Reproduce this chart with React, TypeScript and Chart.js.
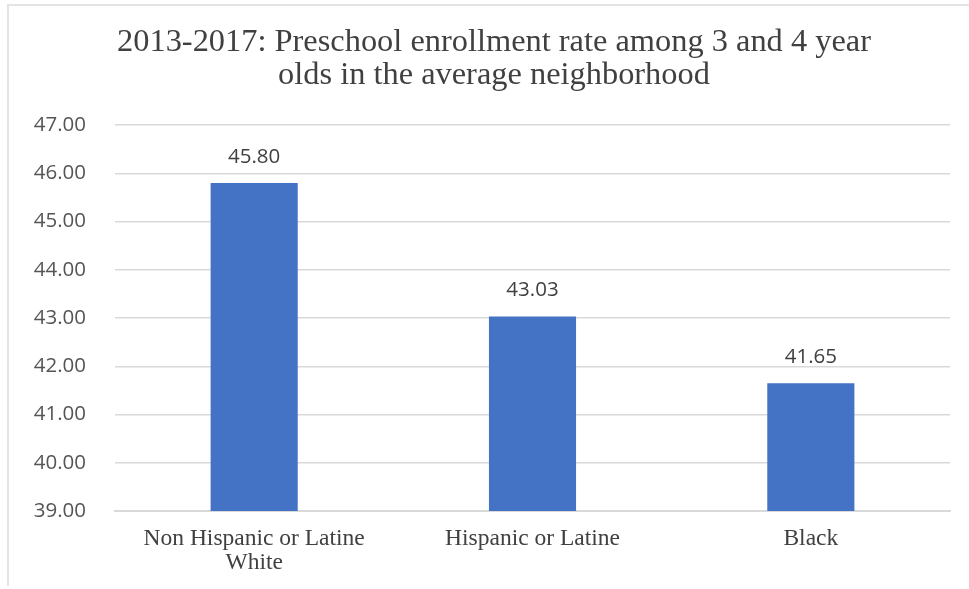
import React, { useEffect, useRef } from "react";
import { Chart, registerables } from "chart.js";

Chart.register(...registerables);

const titleLines = [
  "2013-2017: Preschool enrollment rate among 3 and 4 year",
  "olds in the average neighborhood",
];
const categories: (string | string[])[] = [
  ["Non Hispanic or Latine", "White"],
  "Hispanic or Latine",
  "Black",
];
const values = [45.8, 43.03, 41.65];
const yMin = 39;
const yMax = 47;
const yStep = 1;

const titlePlugin = {
  id: "customTitle",
  afterDraw(chart: any) {
    const ctx = chart.ctx;
    ctx.save();
    ctx.font = '31px "Liberation Serif"';
    ctx.fillStyle = "#404040";
    ctx.textAlign = "center";
    ctx.textBaseline = "alphabetic";
    const cx = 494;
    const xs = 1.045;
    titleLines.forEach((line, i) => {
      ctx.save();
      ctx.translate(cx, 51 + i * 33);
      ctx.scale(xs, 1);
      ctx.fillText(line, 0, 0);
      ctx.restore();
    });
    ctx.restore();
  },
};

const valueLabels = {
  id: "valueLabels",
  afterDatasetsDraw(chart: any) {
    const ctx = chart.ctx;
    const meta = chart.getDatasetMeta(0);
    ctx.save();
    ctx.font = '20.5px "Open Sans"';
    ctx.fillStyle = "#404040";
    ctx.textAlign = "center";
    ctx.textBaseline = "middle";
    meta.data.forEach((bar: any, i: number) => {
      const v = chart.data.datasets[0].data[i] as number;
      ctx.fillText(v.toFixed(2), bar.x, bar.y - 26);
    });
    ctx.restore();
  },
};

export default function App() {
  const ref = useRef<HTMLCanvasElement | null>(null);
  useEffect(() => {
    if (!ref.current) return;
    const chart = new Chart(ref.current, {
      type: "bar",
      data: {
        labels: categories,
        datasets: [
          {
            data: values,
            backgroundColor: "#4472C4",
            categoryPercentage: 1,
            barPercentage: 0.313,
          },
        ],
      },
      options: {
        animation: false,
        responsive: false,
        maintainAspectRatio: false,
        layout: { padding: { left: 0, right: 19, top: 125, bottom: 18 } },
        plugins: {
          legend: { display: false },
          tooltip: { enabled: false },
          title: { display: false },
        },
        scales: {
          x: {
            grid: { display: false, drawTicks: false },
            border: { color: "#d9d9d9", width: 2 },
            ticks: {
              color: "#404040",
              font: { family: '"Liberation Serif"', size: 23.5, lineHeight: 1.05 },
              padding: 15,
              maxRotation: 0,
              autoSkip: false,
            },
            afterFit: (s: any) => {
              s.height = 60;
            },
          },
          y: {
            min: yMin,
            max: yMax,
            grid: { color: "#d9d9d9", lineWidth: 1.5, drawTicks: false },
            border: { display: false },
            ticks: {
              stepSize: yStep,
              color: "#555555",
              font: { family: '"Open Sans"', size: 20.5 },
              padding: 29,
              callback: (v: any) => Number(v).toFixed(2),
            },
            afterFit: (s: any) => {
              s.width = 115;
            },
          },
        },
      },
      plugins: [valueLabels, titlePlugin],
    });
    return () => chart.destroy();
  }, []);
  return (
    <div style={{ position: "fixed", left: 0, top: 0, width: 969, height: 589, background: "#fff" }}>
      <div
        style={{
          position: "absolute",
          left: 7,
          top: 4,
          right: 0,
          bottom: 3,
          borderTop: "2px solid #e4e4e4",
          borderLeft: "2px solid #e4e4e4",
        }}
      />
      <canvas ref={ref} width={969} height={589} style={{ position: "absolute", left: 0, top: 0 }} />
    </div>
  );
}
